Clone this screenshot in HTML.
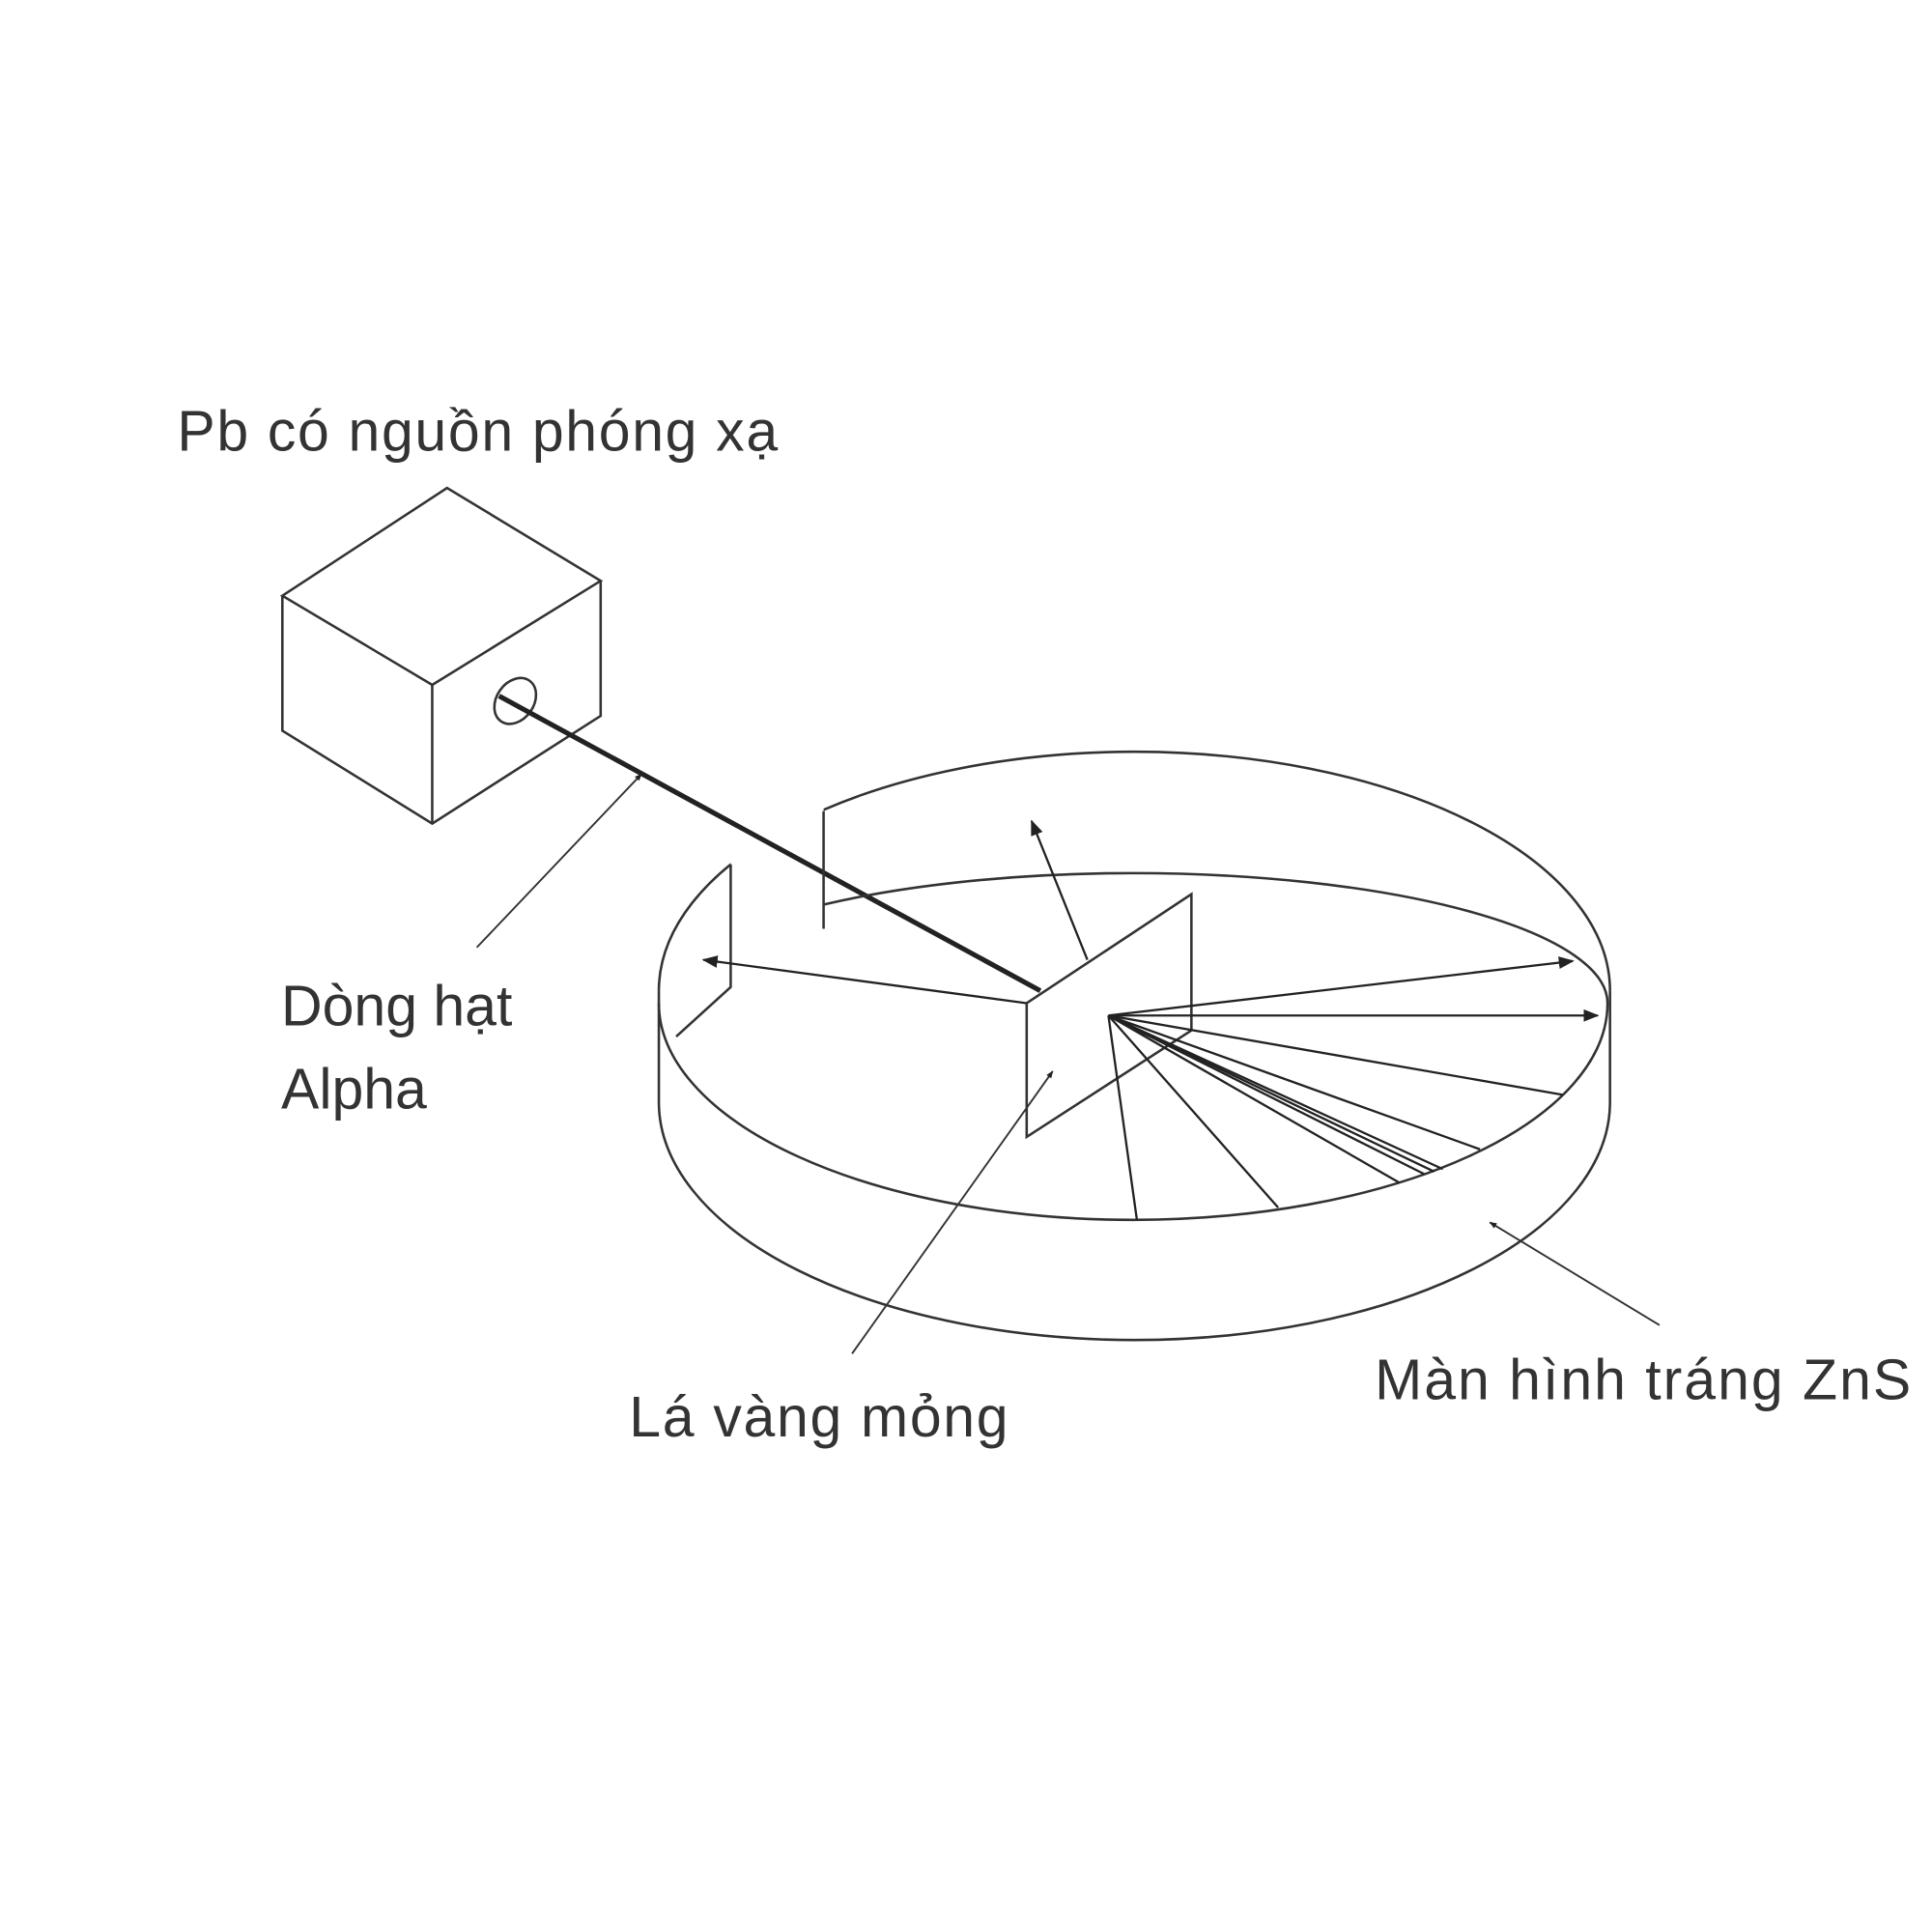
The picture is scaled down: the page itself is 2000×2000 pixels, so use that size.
<!DOCTYPE html>
<html><head><meta charset="utf-8"><style>
html,body{margin:0;padding:0;background:#fff;}
svg{display:block;}
text{font-family:"Liberation Sans","DejaVu Sans",sans-serif;fill:#333;font-size:46px;}
</style></head><body>
<svg width="2000" height="2000" viewBox="0 0 1560 1560" xmlns="http://www.w3.org/2000/svg">
<defs>
<marker id="ah" viewBox="0 0 10 10" refX="9" refY="5" markerWidth="7" markerHeight="7" orient="auto"><path d="M0,1 L10,5 L0,9 z" fill="#222"/></marker>
<marker id="ahs" viewBox="0 0 10 10" refX="9" refY="5" markerWidth="4" markerHeight="4" orient="auto"><path d="M0,1 L10,5 L0,9 z" fill="#222"/></marker>
<clipPath id="cut"><path d="M0,0 H590 V800 H665 V0 H1560 V1560 H0 Z"/></clipPath>
<clipPath id="cut2"><rect x="665" y="0" width="900" height="1560"/></clipPath>
</defs>
<rect width="1560" height="1560" fill="#fff"/>
<text x="143" y="364" textLength="485">Pb có nguồn phóng xạ</text>
<g fill="none" stroke="#333" stroke-width="2">
<path d="M361,394 L228,481 L349,553 L485,469 Z"/>
<path d="M228,481 V590 L349,665 L485,578 V469"/>
<path d="M349,553 V665"/>
<ellipse cx="416" cy="566" rx="15" ry="20" transform="rotate(35 416 566)"/>
</g>
<line x1="403" y1="562" x2="840" y2="800" stroke="#222" stroke-width="4"/>
<line x1="385" y1="765" x2="518" y2="625" stroke="#333" stroke-width="1.5" marker-end="url(#ahs)"/>
<text x="227" y="828">Dòng hạt</text>
<text x="227" y="895">Alpha</text>
<g fill="none" stroke="#333" stroke-width="2">
<path clip-path="url(#cut)" d="M532,800 A384,193 0 0 1 1300,800"/>
<path clip-path="url(#cut2)" d="M532,810 A383,105 0 0 1 1298,810"/>
<path d="M532,810 A383,175 0 0 0 1298,810"/>
<path d="M532,800 V890 A384,192 0 0 0 1300,890 V800"/>
<path d="M590,698 V797 L546,837 M665,655 V750"/>
</g>
<path d="M829,810 L962,722 V832 L829,918 Z" fill="#fff" stroke="#333" stroke-width="2"/>
<g stroke="#222" stroke-width="1.8" fill="none">
<line x1="895" y1="820" x2="1270" y2="776" marker-end="url(#ah)"/>
<line x1="895" y1="820" x2="1290" y2="820" marker-end="url(#ah)"/>
<line x1="895" y1="820" x2="1262" y2="884"/>
<line x1="895" y1="820" x2="1195" y2="928"/>
<line x1="895" y1="820" x2="1165" y2="944"/>
<line x1="895" y1="820" x2="1158" y2="946"/>
<line x1="895" y1="820" x2="1150" y2="948"/>
<line x1="895" y1="820" x2="1130" y2="955"/>
<line x1="895" y1="820" x2="1032" y2="975"/>
<line x1="895" y1="820" x2="918" y2="985"/>
<line x1="829" y1="810" x2="568" y2="775" marker-end="url(#ah)"/>
<line x1="878" y1="775" x2="833" y2="663" marker-end="url(#ah)"/>
</g>
<line x1="688" y1="1093" x2="850" y2="865" stroke="#333" stroke-width="1.5" marker-end="url(#ahs)"/>
<line x1="1340" y1="1070" x2="1203" y2="987" stroke="#333" stroke-width="1.5" marker-end="url(#ahs)"/>
<text x="508" y="1160" textLength="306">Lá vàng mỏng</text>
<text x="1110" y="1130" textLength="433">Màn hình tráng ZnS</text>
</svg>
</body></html>
